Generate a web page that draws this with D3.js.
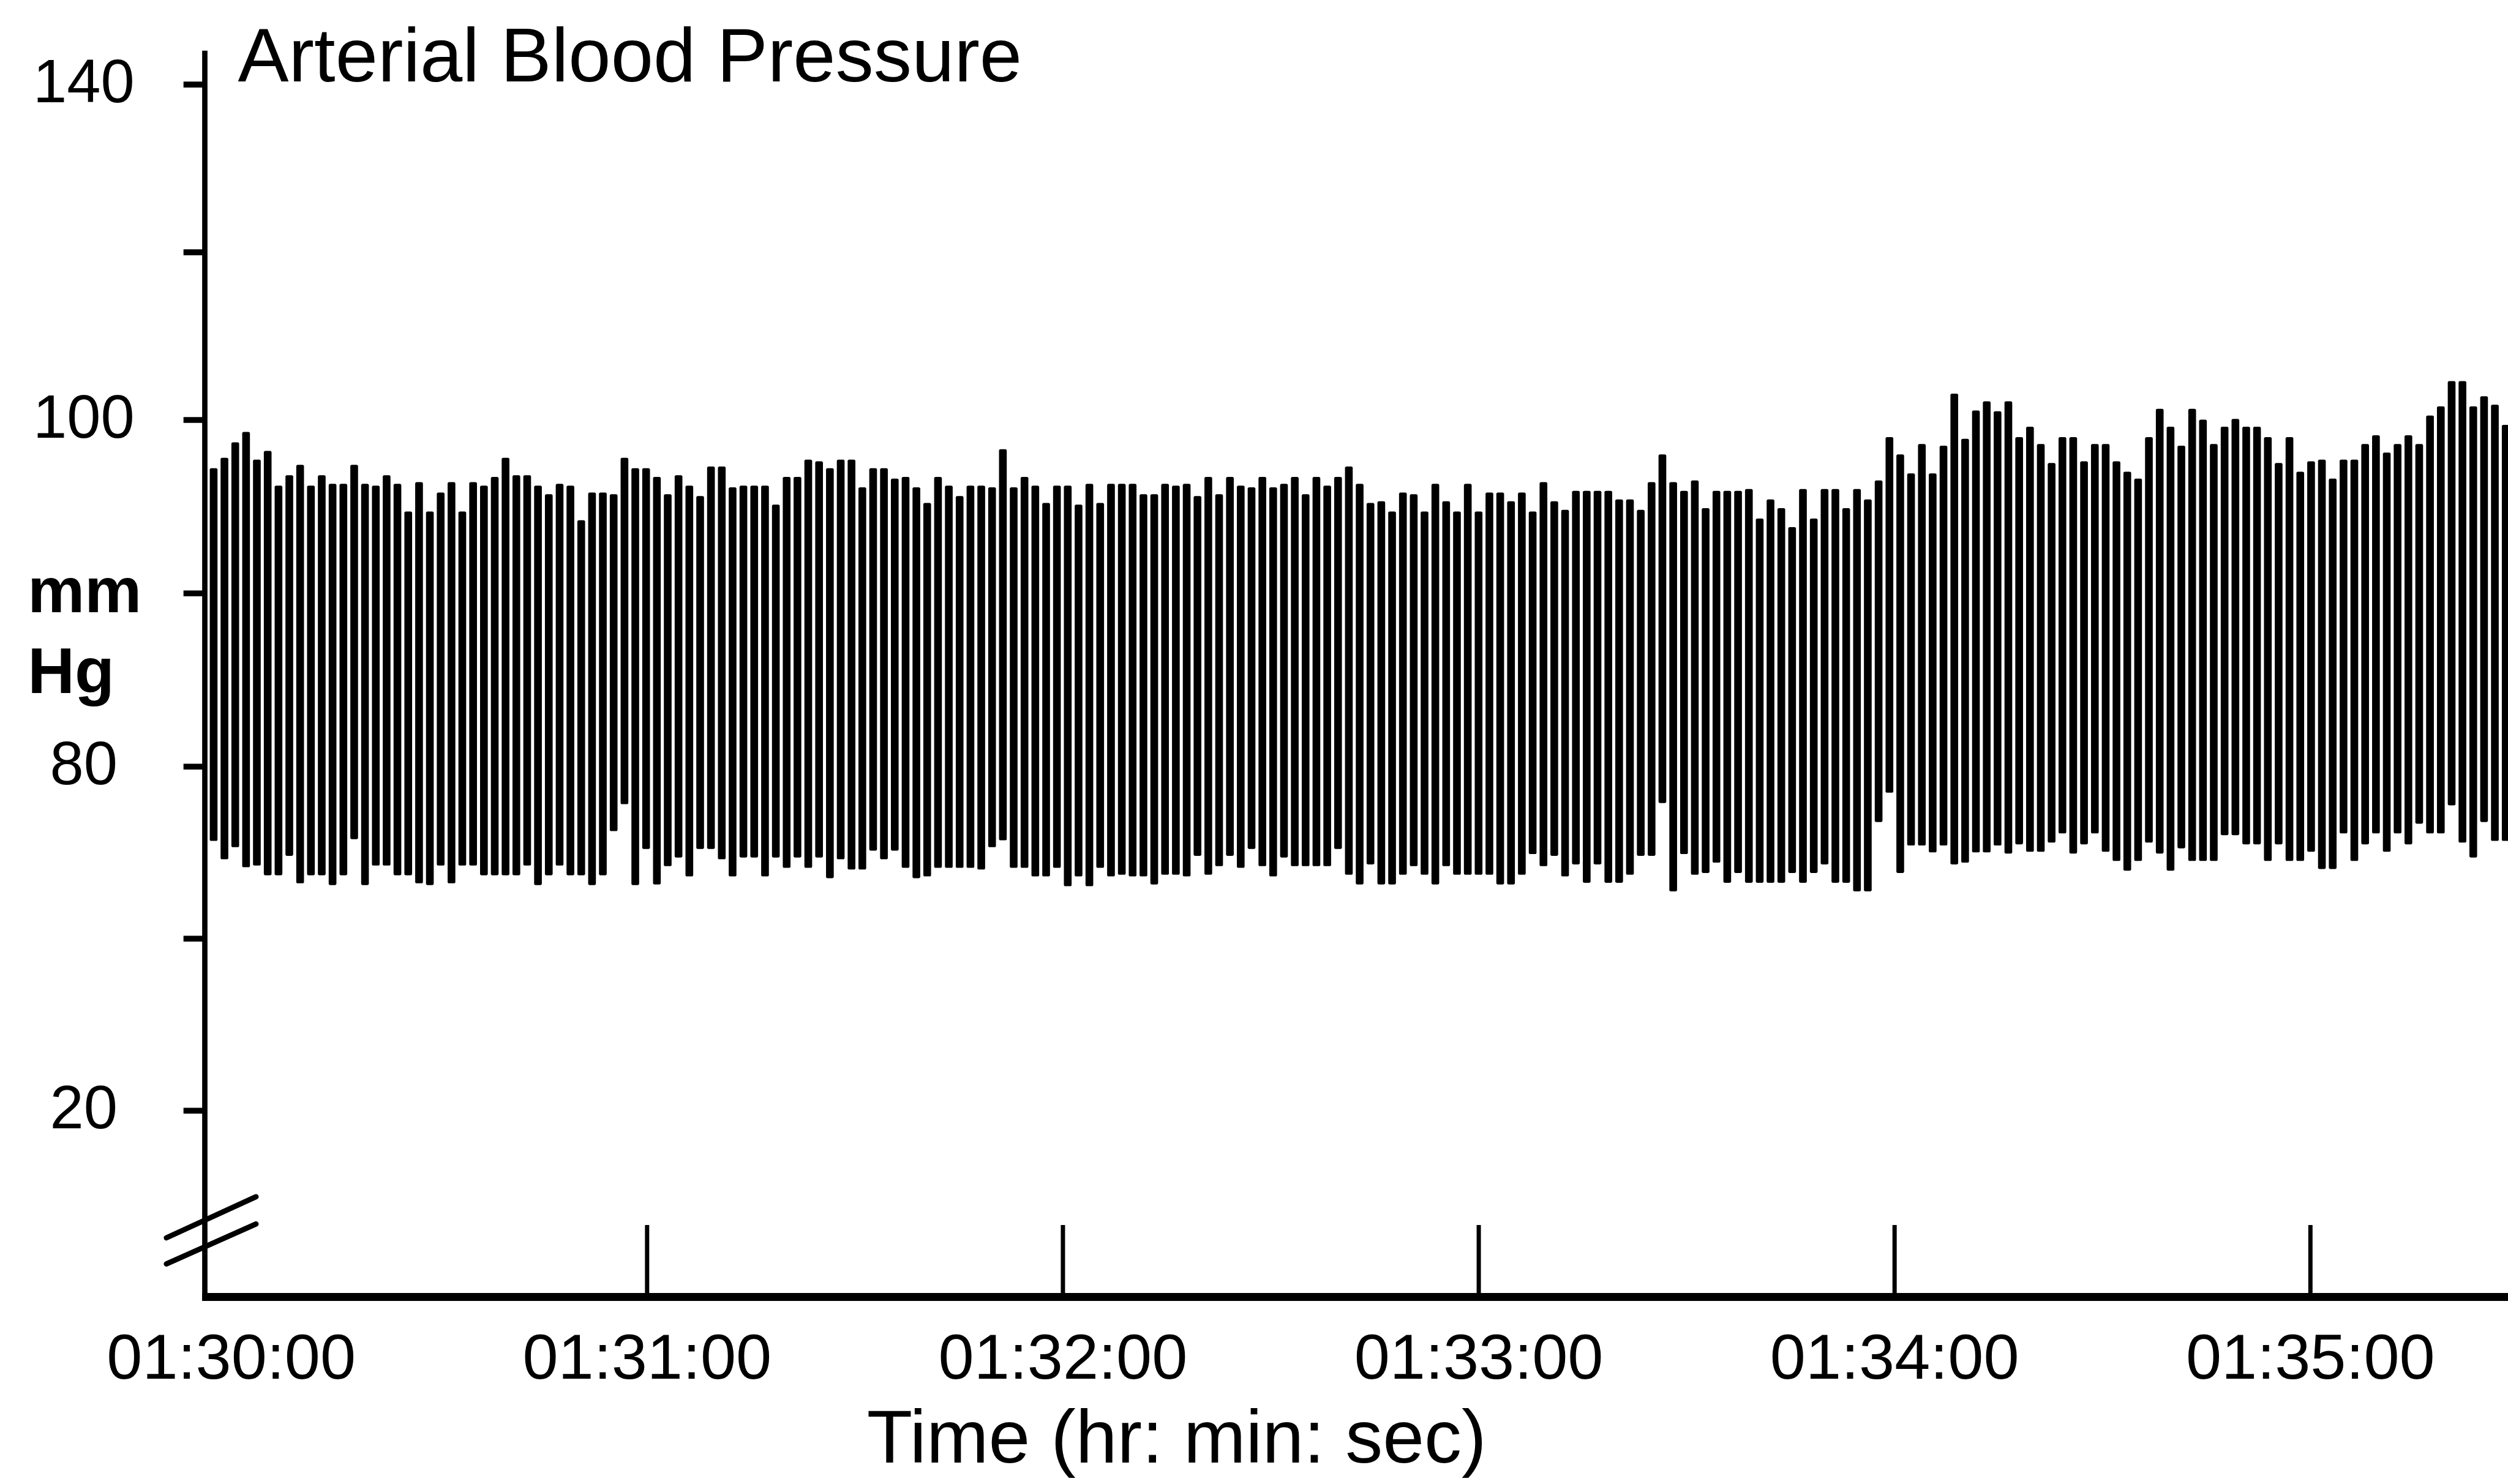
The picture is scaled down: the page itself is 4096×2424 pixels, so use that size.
<!DOCTYPE html>
<html><head><meta charset="utf-8">
<script src="https://cdn.jsdelivr.net/npm/d3@7"></script>
<style>
html,body{margin:0;padding:0;background:#fff;}
svg{display:block;}
text{font-family:"Liberation Sans", Arial, sans-serif; fill:#000;}
</style></head><body>
<svg id="chart" width="4096" height="2424"></svg>
<script>
// ---------- data ----------
const chartTitle = "Arterial Blood Pressure";
const xAxisTitle = "Time (hr: min: sec)";
const yUnitLines = ["mm", "Hg"];
const yScaleStops = [20, 80, 100, 140];          // printed axis is piecewise (non-uniform)
const yTickValues = [20, 50, 80, 90, 100, 120, 140];
const yTickLabels = ["20", "", "80", "", "100", "", "140"];
const xTickSeconds = [0, 60, 120, 180, 240, 300];  // seconds after 01:30:00
const xTickLabels = ["01:30:00", "01:31:00", "01:32:00", "01:33:00", "01:34:00", "01:35:00"];
const firstBeatSec = -2.5;     // time of first drawn beat (s after 01:30:00)
const beatIntervalSec = 1.56;  // spacing of the displayed beats

// systolic peak of each displayed beat (mmHg)
const systolic = [
97.2, 97.8, 98.7, 99.3, 97.7, 98.2, 96.2, 96.8, 97.4, 96.2, 96.8, 96.3, 96.3, 97.4, 96.3, 96.2, 96.8, 96.3, 94.7, 96.4,
94.7, 95.8, 96.4, 94.7, 96.4, 96.2, 96.7, 97.8, 96.8, 96.8, 96.2, 95.7, 96.3, 96.2, 94.2, 95.8, 95.8, 95.7, 97.8, 97.2, 97.2,
96.7, 95.7, 96.8, 96.2, 95.6, 97.3, 97.3, 96.1, 96.2, 96.2, 96.2, 95.1, 96.7, 96.7, 97.7, 97.6, 97.2, 97.7, 97.7, 96.1,
97.2, 97.2, 96.6, 96.7, 96.1, 95.2, 96.7, 96.2, 95.6, 96.2, 96.2, 96.1, 98.3, 96.1, 96.7, 96.2, 95.2, 96.2, 96.2, 95.1,
96.3, 95.2, 96.3, 96.3,
96.3, 95.7, 95.7, 96.3, 96.2, 96.3, 95.6, 96.7, 95.7, 96.7, 96.2, 96.1, 96.7, 96.1, 96.3, 96.7, 95.7, 96.7, 96.2, 96.7,
97.3, 96.3, 95.2, 95.3, 94.7, 95.8, 95.7, 94.7, 96.3, 95.3, 94.7, 96.3, 94.7, 95.8, 95.8, 95.3, 95.8, 94.7, 96.4, 95.3, 94.8,
95.9, 95.9, 95.9, 95.9, 95.4, 95.4, 94.8, 96.4, 98.0, 96.4, 95.9, 96.5, 94.9, 95.9, 95.9, 95.9, 96.0, 94.3, 95.4, 94.9,
93.8, 96.0, 94.3, 96.0, 96.0, 94.9, 96.0, 95.4, 96.5, 99.0, 98.0, 96.9, 98.6, 96.9, 98.5, 103.1, 98.9, 101.1, 102.2, 101.0,
102.2, 99.0, 99.6, 98.6, 97.5, 99.0, 99.0, 97.6, 98.6, 98.6, 97.6, 97.0, 96.6, 99.0, 101.3, 99.6, 98.5, 101.3, 100.0, 98.6,
99.6, 100.1, 99.6, 99.6, 99.0, 97.5, 99.0, 97.0, 97.6, 97.7, 96.6, 97.7, 97.7, 98.6, 99.1, 98.1, 98.6, 99.1, 98.6, 100.5,
101.6, 104.6, 104.6, 101.6, 102.8, 101.8, 99.7
];
// diastolic trough of each displayed beat (mmHg)
const diastolic = [
67.0, 63.8, 65.9, 62.4, 62.7, 61.0, 61.0, 64.4, 59.6, 61.0, 61.0, 59.3, 61.0, 67.3, 59.3, 62.7, 62.7, 61.0, 61.0, 59.6,
59.3, 62.7, 59.6, 62.7, 62.7, 61.0, 61.0, 61.0, 61.0, 62.7, 59.3, 61.0, 62.7, 61.0, 61.0, 59.3, 61.0, 68.7, 73.4, 59.3, 65.6,
59.4, 62.6, 64.1, 60.8, 65.6, 65.6, 63.8, 60.8, 64.1, 64.1, 60.8, 64.1, 62.3, 64.1, 62.3, 64.1, 60.5, 63.8, 62.0, 62.0,
65.3, 63.8, 65.3, 62.3, 60.5, 60.8, 62.3, 62.3, 62.3, 62.3, 62.0, 65.9, 67.1, 62.3, 62.3, 60.8, 60.8, 62.3, 59.1, 60.8,
59.1, 62.3, 60.8, 61.1,
60.8, 60.8, 59.4, 61.1, 61.1, 60.8, 64.4, 61.1, 62.6, 64.4, 62.3, 65.6, 62.6, 60.8, 64.1, 62.6, 62.6, 62.6, 62.6, 65.6,
61.1, 59.4, 62.9, 59.4, 59.4, 61.1, 62.6, 61.1, 59.4, 62.6, 61.1, 61.1, 61.1, 61.1, 59.4, 59.4, 61.1, 64.7, 62.6, 64.4, 60.8,
62.9, 59.7, 62.9, 59.7, 59.7, 61.1, 64.4, 64.4, 73.6, 58.2, 64.7, 61.1, 61.4, 63.2, 59.7, 61.4, 59.7, 59.7, 59.7, 59.7,
61.4, 59.7, 61.4, 62.9, 59.7, 59.7, 58.2, 58.2, 70.3, 75.4, 61.4, 66.2, 66.2, 65.0, 66.2, 62.9, 63.2, 65.0, 65.0, 66.2,
64.8, 66.4, 65.1, 65.1, 66.7, 68.3, 64.8, 66.4, 68.3, 65.1, 63.5, 61.8, 63.5, 66.7, 64.8, 61.8, 65.7, 63.5, 63.5, 63.5,
68.0, 68.0, 66.4, 66.4, 63.5, 66.4, 63.5, 63.5, 65.1, 62.1, 62.1, 68.3, 63.5, 66.4, 68.3, 65.1, 68.3, 66.4, 70.0, 68.3,
68.3, 73.2, 66.7, 64.1, 70.3, 67.0, 67.0
];

// ---------- layout ----------
const W = 4096, H = 2424;
const S = W / 4702;
const svg = d3.select("#chart");
svg.append("rect").attr("width", W).attr("height", H).attr("fill", "#fff");

const axisX = 384 * S;
const baseY = 2432 * S;

const x = d3.scaleLinear().domain([0, 300]).range([433 * S, 4331 * S]);
const y = d3.scaleLinear().domain(yScaleStops).range([2082 * S, 1437 * S, 787 * S, 158 * S]);

// ---------- pressure trace ----------
const beats = systolic.map((s, i) => ({ t: firstBeatSec + i * beatIntervalSec, sys: s, dia: diastolic[i] }));
const barW = 14.5 * S;
svg.append("g").attr("class", "trace")
  .selectAll("rect").data(beats).join("rect")
  .attr("x", d => x(d.t) - barW / 2)
  .attr("width", barW)
  .attr("y", d => y(d.sys))
  .attr("height", d => y(d.dia) - y(d.sys))
  .attr("rx", 3 * S)
  .attr("fill", "#000");

// ---------- y axis ----------
svg.append("line")
  .attr("x1", axisX).attr("x2", axisX)
  .attr("y1", y(144)).attr("y2", baseY + 6 * S)
  .attr("stroke", "#000").attr("stroke-width", 10 * S);

const gy = svg.append("g").attr("transform", `translate(${axisX},0)`)
  .call(d3.axisLeft(y).tickValues(yTickValues).tickSize(40 * S).tickPadding(0)
    .tickFormat((d, i) => yTickLabels[i]));
gy.select(".domain").remove();
gy.selectAll(".tick line").attr("stroke", "#000").attr("stroke-width", 11 * S);
gy.selectAll(".tick text")
  .attr("x", (157 - 384) * S).attr("y", -8 * S).attr("dy", "0.36em")
  .attr("text-anchor", "middle")
  .style("font-size", (114 * S) + "px")
  .style("font-family", "'Liberation Sans', Arial, sans-serif");

// unit label
svg.append("text").attr("x", 52 * S).attr("y", 1148 * S)
  .style("font-size", (120 * S) + "px").style("font-weight", "bold").text(yUnitLines[0]);
svg.append("text").attr("x", 52 * S).attr("y", 1300 * S)
  .style("font-size", (122 * S) + "px").style("font-weight", "bold").text(yUnitLines[1]);

// axis break marks
const breaks = [[-72, -111, 96, -188], [-72, -62, 96, -137]];
svg.append("g").selectAll("line").data(breaks).join("line")
  .attr("x1", d => axisX + d[0] * S).attr("y1", d => baseY + d[1] * S)
  .attr("x2", d => axisX + d[2] * S).attr("y2", d => baseY + d[3] * S)
  .attr("stroke", "#000").attr("stroke-width", 10 * S).attr("stroke-linecap", "round");

// ---------- x axis ----------
svg.append("line")
  .attr("x1", axisX - 5 * S).attr("x2", W)
  .attr("y1", baseY).attr("y2", baseY)
  .attr("stroke", "#000").attr("stroke-width", 15 * S);

const gx = svg.append("g").attr("transform", `translate(0,${baseY})`)
  .call(d3.axisBottom(x).tickValues(xTickSeconds).tickSizeInner(-135 * S).tickSizeOuter(0)
    .tickFormat((d, i) => xTickLabels[i]));
gx.select(".domain").remove();
gx.selectAll(".tick line")
  .attr("stroke", "#000").attr("stroke-width", 8 * S)
  .attr("display", d => d === 0 ? "none" : null);
gx.selectAll(".tick text")
  .attr("y", (2585 - 2432) * S).attr("dy", null)
  .style("font-size", (120 * S) + "px")
  .style("font-family", "'Liberation Sans', Arial, sans-serif");

// ---------- titles ----------
svg.append("text").attr("x", 446 * S).attr("y", 153 * S)
  .style("font-size", (143 * S) + "px").text(chartTitle);
svg.append("text").attr("x", 2206 * S).attr("y", 2742 * S)
  .attr("text-anchor", "middle")
  .style("font-size", (140 * S) + "px").text(xAxisTitle);
</script>
</body></html>
